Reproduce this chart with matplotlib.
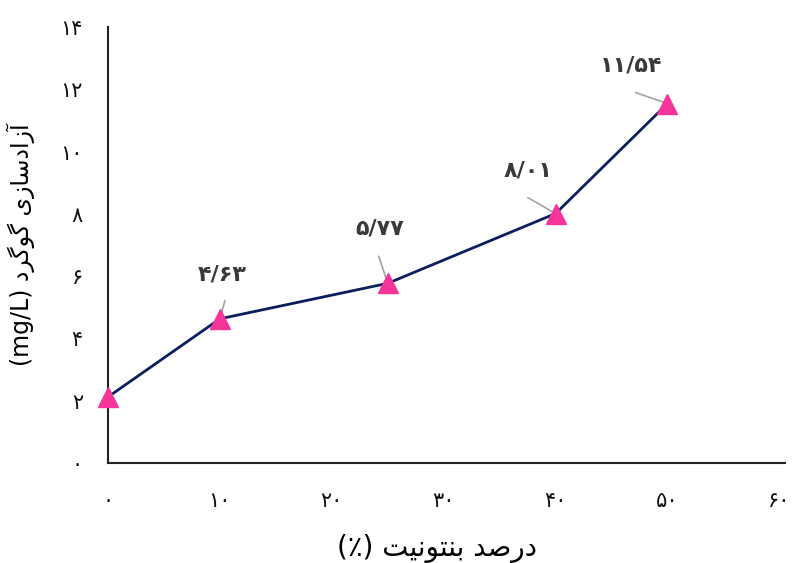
import matplotlib
matplotlib.use('Agg')
import matplotlib.pyplot as plt

# bentonite percentage vs. sulfur release
bentonite = [0, 10, 25, 40, 50]
sulfur = [2.12, 4.63, 5.77, 8.01, 11.54]
point_labels = ['', '۴/۶۳', '۵/۷۷', '۸/۰۱', '۱۱/۵۴']

x_ticks = [0, 10, 20, 30, 40, 50, 60]
x_tick_labels = ['۰', '۱۰', '۲۰', '۳۰', '۴۰', '۵۰', '۶۰']
y_ticks = [0, 2, 4, 6, 8, 10, 12, 14]
y_tick_labels = ['۰', '۲', '۴', '۶', '۸', '۱۰', '۱۲', '۱۴']

# Persian titles, pre-shaped (presentation forms, visual order)
x_title = '(٪) ' + '\uFE96\uFEF4\uFEE7\uFEEE\uFE98\uFEE8\uFE91' + ' ' + '\uFEAA\uFEBB\uFEAD\uFEA9'
y_title = '(mg/L) ' + '\uFEA9\uFEAE\uFB94\uFEEE\uFB94' + ' ' + '\uFEEF\uFEAF\uFE8E\uFEB3\uFEA9\uFE8D\uFEAF\uFE81'

# label text centre and leader-line start, in points relative to the marker
text_offsets = [(0, 0), (1.5, 32), (-6, 39.5), (-20, 31), (-26, 27.5)]
leader_offsets = [(0, 0), (3.6, 13), (-6.5, 19.5), (-20, 11.5), (-23, 8)]

plt.rcParams['font.family'] = ['DejaVu Sans']

fig = plt.figure(figsize=(7.95, 5.63), dpi=100)
ax = fig.add_axes([0.1358, 0.1776, 0.8516, 0.7744])

ax.plot(bentonite, sulfur, color='#0B1F5E', linewidth=2.0, zorder=2)
ax.plot(bentonite, sulfur, linestyle='none', marker='^', markersize=14,
        color='#F5359A', zorder=4, clip_on=False)

for x, y, lab, toff, loff in zip(bentonite, sulfur, point_labels,
                                 text_offsets, leader_offsets):
    if not lab:
        continue
    # gray leader line, drawn under the marker
    ax.annotate('', xy=(x, y), xytext=loff, textcoords='offset points',
                arrowprops=dict(arrowstyle='-', color='#A3A3A3', lw=1.2,
                                shrinkA=0, shrinkB=0), zorder=3)
    ax.annotate(lab, xy=(x, y), xytext=toff, textcoords='offset points',
                ha='center', va='center', fontsize=16, fontweight='bold',
                color='#3A3A3A')

ax.set_xlim(0, 60.5)
ax.set_ylim(0, 14)
ax.set_xticks(x_ticks)
ax.set_xticklabels(x_tick_labels)
ax.set_yticks(y_ticks)
ax.set_yticklabels(y_tick_labels)
ax.tick_params(axis='both', length=0, labelsize=15, colors='#111111')
ax.tick_params(axis='x', pad=20)
ax.tick_params(axis='y', pad=18)

for side in ['top', 'right']:
    ax.spines[side].set_visible(False)
for side in ['left', 'bottom']:
    ax.spines[side].set_linewidth(1.5)
    ax.spines[side].set_color('#222222')

ax.set_xlabel(x_title, fontsize=20)
ax.xaxis.set_label_coords(0.486, -0.163)
ax.set_ylabel(y_title, fontsize=17, labelpad=18)

fig.savefig('out.png', dpi=100)
